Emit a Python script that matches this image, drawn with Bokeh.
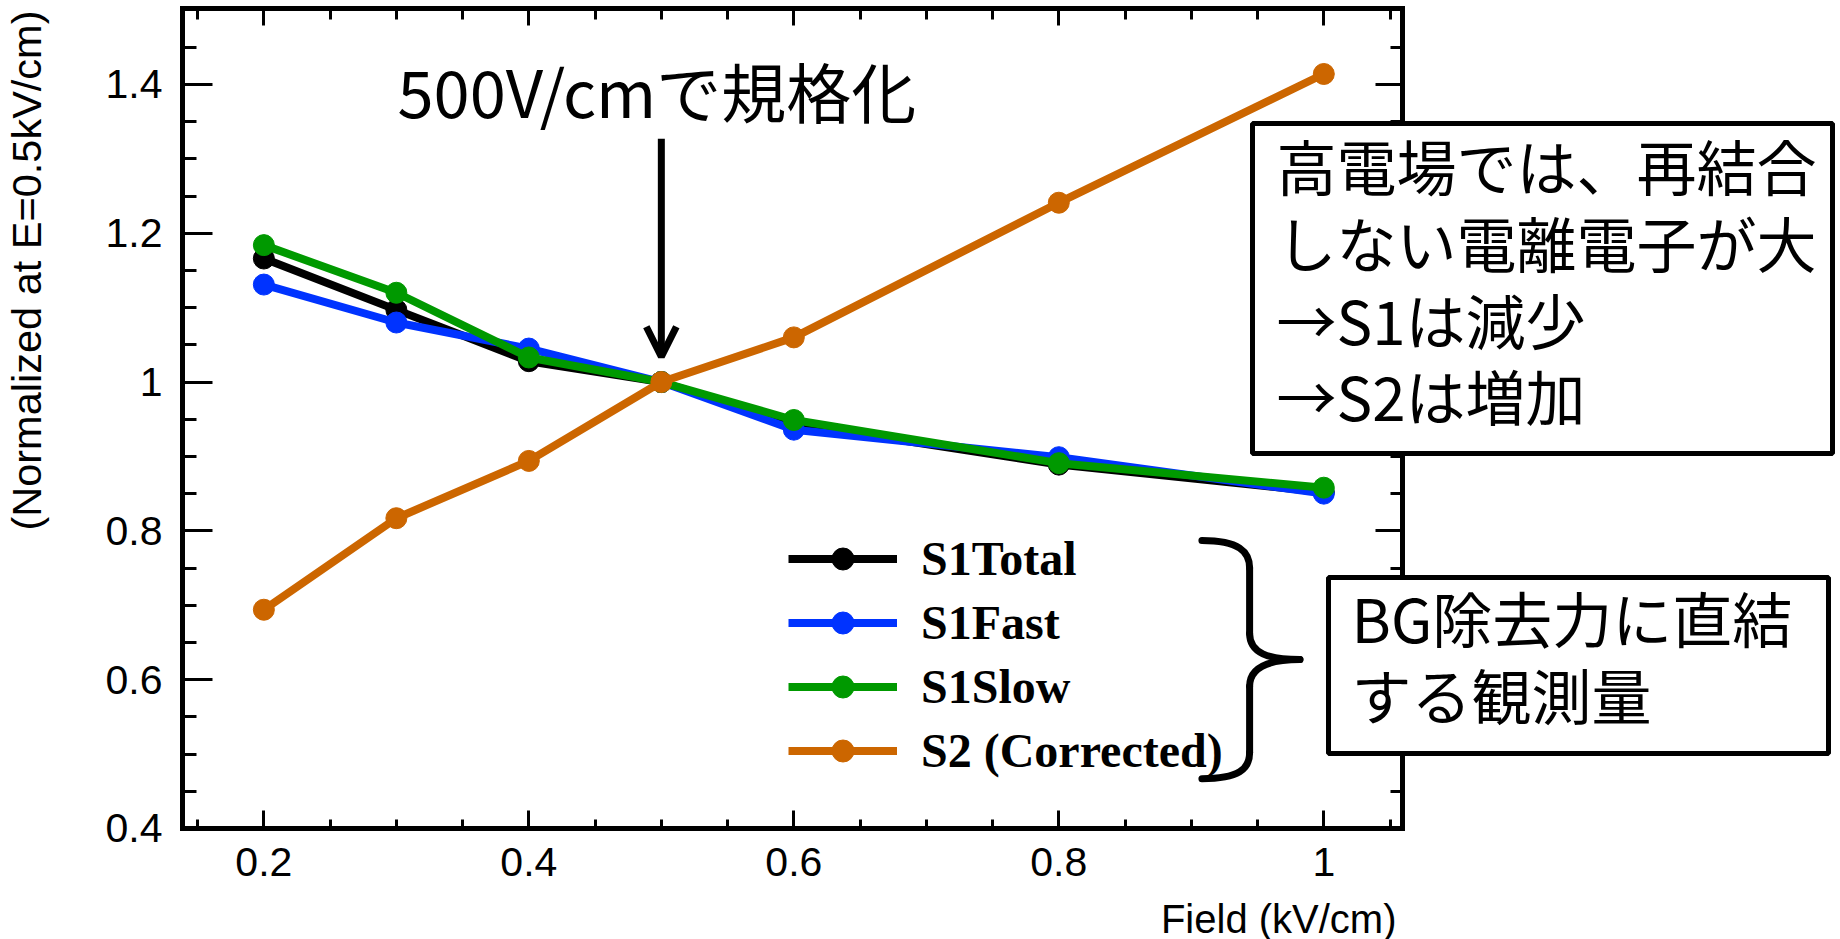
import math

from bokeh.embed import file_html
from bokeh.models import (Arrow, BoxAnnotation, CustomJSTickFormatter,
                          FixedTicker, Label, Legend, LegendItem, LinearAxis,
                          NumeralTickFormatter, OpenHead, Range1d)
from bokeh.plotting import figure
from bokeh.resources import INLINE

# Drift field (kV/cm) and yields normalised at 0.5 kV/cm
field = [0.2, 0.3, 0.4, 0.5, 0.6, 0.8, 1.0]
s1_total = [1.166, 1.097, 1.028, 1.0, 0.944, 0.889, 0.852]
s1_fast = [1.131, 1.080, 1.045, 1.0, 0.936, 0.899, 0.850]
s1_slow = [1.184, 1.120, 1.033, 1.0, 0.949, 0.891, 0.858]
s2_corrected = [0.694, 0.817, 0.894, 1.0, 1.060, 1.241, 1.414]

series_names = ["S1Total", "S1Fast", "S1Slow", "S2 (Corrected)"]
series_values = [s1_total, s1_fast, s1_slow, s2_corrected]
series_colors = ["#000000", "#0033ff", "#009900", "#cc6600"]

# Axis extents of the plotting box and its ticks
x_axis_span = (0.1386, 1.0594)
y_axis_span = (0.4, 1.502)
x_major_ticks = [0.2, 0.4, 0.6, 0.8, 1.0]
x_minor_ticks = [0.15, 0.25, 0.3, 0.35, 0.45, 0.5, 0.55, 0.65, 0.7, 0.75,
                 0.85, 0.9, 0.95, 1.05]
y_major_ticks = [0.4, 0.6, 0.8, 1.0, 1.2, 1.4]
y_minor_ticks = [0.45, 0.5, 0.55, 0.65, 0.7, 0.75, 0.85, 0.9, 0.95, 1.05,
                 1.1, 1.15, 1.25, 1.3, 1.35, 1.45]

x_title = "Field (kV/cm)"
y_title = "(Normalized at E=0.5kV/cm)"
norm_note = "500V/cmで規格化"
physics_note = ["高電場では、再結合", "しない電離電子が大", "→S1は減少", "→S2は増加"]
bg_note = ["BG除去力に直結", "する観測量"]

SANS = "Liberation Sans"
SERIF = "Liberation Serif"
JP = "Noto Sans CJK JP"

# The drawing area spans the whole page so that the side notes and the
# axis titles can sit around the boxed plot; the box itself is made of four
# axes pinned at the span limits.
p = figure(
    width=1840, height=939,
    x_range=Range1d(0.00123, 1.38998), y_range=Range1d(0.25082, 1.51275),
    output_backend="svg", toolbar_location=None, title=None,
    x_axis_type=None, y_axis_type=None,
    min_border_left=0, min_border_right=0,
    min_border_top=0, min_border_bottom=0,
)
p.background_fill_color = "white"
p.border_fill_color = "white"
p.outline_line_color = None


def frame_axis(side, location, span, ticks, minor, major_len, minor_len,
               labelled):
    ax = LinearAxis(ticker=FixedTicker(ticks=ticks, minor_ticks=minor),
                    fixed_location=location, bounds=span)
    ax.axis_line_color = "black"
    ax.axis_line_width = 5
    ax.axis_line_cap = "square"
    ax.major_tick_in = major_len
    ax.major_tick_out = 0
    ax.minor_tick_in = minor_len
    ax.minor_tick_out = 0
    ax.major_tick_line_width = 3
    ax.minor_tick_line_width = 3
    ax.major_tick_line_color = "black"
    ax.minor_tick_line_color = "black"
    if labelled:
        ax.formatter = NumeralTickFormatter(format="0.[0]")
        ax.major_label_text_font = SANS
        ax.major_label_text_font_size = "41px"
        ax.major_label_text_color = "black"
        ax.major_label_standoff = 20
    else:
        # mirrored box edge: ticks only
        ax.formatter = CustomJSTickFormatter(code="return ''")
        ax.major_label_text_font_size = "1px"
        ax.major_label_standoff = 0
    p.add_layout(ax, side)
    return ax


frame_axis("below", y_axis_span[0], x_axis_span, x_major_ticks, x_minor_ticks,
           18, 9, True)
frame_axis("above", y_axis_span[1], x_axis_span, x_major_ticks, x_minor_ticks,
           17, 11, False)
frame_axis("left", x_axis_span[0], y_axis_span, y_major_ticks, y_minor_ticks,
           30, 14, True)
frame_axis("right", x_axis_span[1], y_axis_span, y_major_ticks, y_minor_ticks,
           27, 12, False)

# Data series: lines with filled circle markers
items = []
for name, ys, color in zip(series_names, series_values, series_colors):
    r_line = p.line(field, ys, line_color=color, line_width=8)
    r_pts = p.scatter(field, ys, marker="circle", size=21,
                      fill_color=color, line_color=color)
    items.append(LegendItem(label=name, renderers=[r_line, r_pts]))

legend = Legend(
    items=items, location=(788, 161),
    glyph_width=109, glyph_height=55, label_height=55, spacing=9,
    label_standoff=24, padding=0, margin=0,
    label_text_font=SERIF, label_text_font_style="bold",
    label_text_font_size="48px", label_text_color="black",
    border_line_alpha=0, background_fill_alpha=0,
)
p.add_layout(legend)

# Curly brace grouping the legend entries
brace_x0 = [0.908, 0.944, 0.944, 0.982, 0.944, 0.944]
brace_y0 = [0.787, 0.750, 0.662, 0.627, 0.591, 0.502]
brace_x1 = [0.944, 0.944, 0.982, 0.944, 0.944, 0.908]
brace_y1 = [0.750, 0.662, 0.627, 0.591, 0.502, 0.467]
brace_cx0 = [0.936, 0.944, 0.944, 0.958, 0.944, 0.944]
brace_cy0 = [0.787, 0.750, 0.636, 0.627, 0.591, 0.480]
brace_cx1 = [0.944, 0.944, 0.958, 0.944, 0.944, 0.936]
brace_cy1 = [0.772, 0.662, 0.627, 0.617, 0.502, 0.467]
p.bezier(x0=brace_x0, y0=brace_y0, x1=brace_x1, y1=brace_y1,
         cx0=brace_cx0, cy0=brace_cy0, cx1=brace_cx1, cy1=brace_cy1,
         line_color="black", line_width=7, line_cap="round")

# Arrow pointing at the normalisation field, with its caption
p.add_layout(Arrow(end=OpenHead(size=30, line_width=7, line_color="black"),
                   x_start=0.5, y_start=1.327, x_end=0.5, y_end=1.034,
                   line_width=7, line_color="black"))


def screen_label(sx, sy, text, font, size, align="left", angle=0.0):
    """Text placed in pixels from the page's bottom-left corner."""
    p.add_layout(Label(x=sx, y=sy, x_units="screen", y_units="screen",
                       text=text, text_font=font, text_font_size=size,
                       text_color="black", text_align=align,
                       text_baseline="middle", angle=angle))


def screen_box(left, right, bottom, top):
    p.add_layout(BoxAnnotation(left=left, right=right, bottom=bottom, top=top,
                               left_units="screen", right_units="screen",
                               bottom_units="screen", top_units="screen",
                               fill_color="white", fill_alpha=1.0,
                               line_color="black", line_width=5,
                               line_alpha=1.0))


screen_label(397, 850, norm_note, JP, "65px")

screen_box(1252, 1832, 486, 816)
screen_box(1328, 1828, 186, 362)
for text, sy in zip(physics_note, [775, 698, 621, 545]):
    screen_label(1276, sy, text, JP, "60px")
for text, sy in zip(bg_note, [323, 246]):
    screen_label(1351, sy, text, JP, "60px")

# Axis titles, aligned to the ends of the box
screen_label(1396, 21, x_title, SANS, "40px", align="right")
screen_label(26, 929, y_title, SANS, "41.5px", align="right",
             angle=math.pi / 2)

open("out.html", "w").write(file_html(p, INLINE))
